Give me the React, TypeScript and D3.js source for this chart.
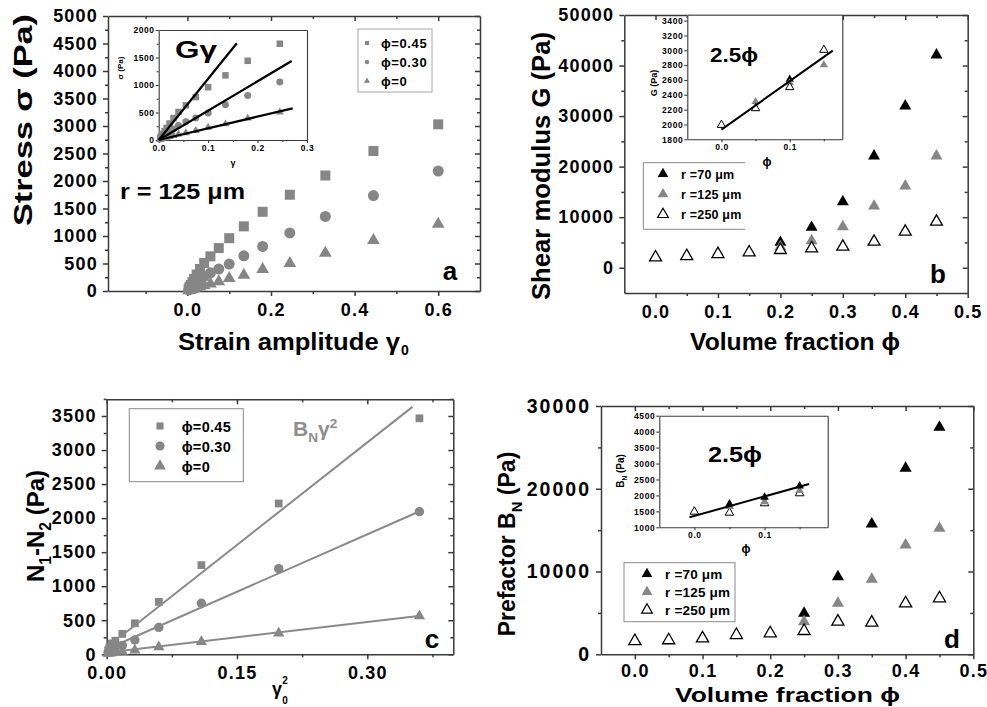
import React, { useEffect, useRef } from "react";
import * as d3 from "d3";

// ---------- panel a : stress vs strain amplitude, r = 125 um
const strainA = [0.003, 0.005, 0.008, 0.012, 0.016, 0.022, 0.03, 0.04, 0.055, 0.075, 0.1, 0.135, 0.18, 0.245, 0.33, 0.445, 0.6];
const stressA045 = [40, 70, 110, 160, 220, 300, 400, 510, 630, 780, 960, 1175, 1440, 1750, 2100, 2545, 3030];
const stressA030 = [20, 35, 55, 80, 110, 150, 200, 265, 330, 400, 490, 640, 810, 1055, 1355, 1735, 2180];
const stressA0 = [8, 14, 22, 32, 45, 60, 80, 105, 130, 170, 230, 290, 395, 505, 690, 920, 1215];
// inset fits sigma = G*gamma
const fitSlopeA = [11130, 5340, 2125];
const fitEndA = [0.158, 0.269, 0.271];
const phiLabels = ["ϕ=0.45", "ϕ=0.30", "ϕ=0"];

// ---------- panel b : shear modulus vs volume fraction
const phiAll = [0, 0.05, 0.1, 0.15, 0.2, 0.25, 0.3, 0.35, 0.4, 0.45];
const phiHigh = [0.2, 0.25, 0.3, 0.35, 0.4, 0.45];
const gB70 = [5020, 7990, 13060, 22100, 32000, 42090];
const gB125 = [4150, 5340, 8110, 12200, 16170, 22100];
const gB250 = [2050, 2300, 2700, 3040, 3500, 3830, 4150, 5140, 7120, 9100];
const phiInset = [0, 0.05, 0.1, 0.15];
const gInset250 = [1993, 2218, 2502, 3005];
const phiInset125 = [0.05, 0.1, 0.15];
const gInset125 = [2307, 2560, 2803];
const phiInset70 = [0.1];
const gInset70 = [2610];
const fitPhiB = [0, 0.163];
const fitGB = [1930, 2996];
const radiusLabels = ["r =70 μm", "r =125 μm", "r =250 μm"];

// ---------- panel c : N1-N2 vs gamma0^2
const strainSqC = [0.0016, 0.003, 0.0056, 0.01, 0.018, 0.0324, 0.06, 0.109, 0.198, 0.36];
const nC045 = [60, 100, 160, 200, 300, 455, 770, 1310, 2215, 3465];
const nC030 = [30, 50, 70, 100, 130, 210, 395, 750, 1257, 2095];
const nC0 = [10, 15, 20, 30, 40, 60, 108, 185, 308, 562];
const fitSlopeC = [10040, 5620, 1500];
const fitInterceptC = [100, 76, 25];
const fitStartC = [0.015, 0.02, 0.008];
const fitEndC = [0.352, 0.359, 0.359];

// ---------- panel d : prefactor B_N vs volume fraction
const bD70 = [4950, 9380, 15740, 22470, 27430];
const bD125 = [3940, 6160, 9060, 13200, 15220];
const phiHighD = [0.25, 0.3, 0.35, 0.4, 0.45];
const bD250 = [1600, 1700, 1930, 2330, 2540, 2815, 3940, 3820, 6160, 6770];
const bInset250 = [1489, 1458, 1753, 2066];
const bInset125 = [1650, 1800, 2150];
const bInset70 = [1731, 1941, 2295];
const fitPhiD = [-0.007, 0.1635];
const fitBD = [1314, 2358];

const FONT = "'Liberation Sans', Arial, 'DejaVu Sans', sans-serif";
const AXIS = "#3a3a3a";
const GRAY = "#868686";

const range = (a: number, b: number, s: number) => d3.range(a, b + s / 2, s).map((v) => +v.toFixed(4));

function frame(g: any, x: any, y: any, o: any) {
  const [xl, xr] = x.range();
  const [yb, yt] = y.range();
  if (o.fill) g.append("rect").attr("x", xl).attr("y", yt).attr("width", xr - xl).attr("height", yb - yt).attr("fill", o.fill);
  const axis = (gen: any, tr: string, vals: number[], size: number, fmt: any, pad: number, font: number, ls: number, domain: boolean) => {
    const a = g.append("g").attr("transform", tr)
      .call(gen.tickValues(vals).tickSize(size).tickSizeOuter(0).tickPadding(pad).tickFormat(fmt));
    a.attr("font-family", null).attr("font-size", null);
    if (domain) a.select(".domain").attr("stroke", AXIS).attr("stroke-width", o.stroke);
    else a.select(".domain").remove();
    a.selectAll(".tick line").attr("stroke", AXIS).attr("stroke-width", o.stroke);
    a.selectAll(".tick text").attr("fill", "#000").attr("font-family", FONT).attr("font-weight", "bold")
      .attr("font-size", font).style("letter-spacing", `${ls}px`);
  };
  const none = () => "";
  axis(d3.axisBottom(x), `translate(0,${yb})`, o.xTicks, o.major, o.xFmt, o.padX, o.font, o.ls, true);
  axis(d3.axisBottom(x), `translate(0,${yb})`, o.xMinor, o.minor, none, 0, 1, 0, false);
  axis(d3.axisLeft(y), `translate(${xl},0)`, o.yTicks, o.major, o.yFmt, o.padY, o.yFont ?? o.font, o.yLs ?? o.ls, true);
  axis(d3.axisLeft(y), `translate(${xl},0)`, o.yMinor, o.minor, none, 0, 1, 0, false);
  axis(d3.axisTop(x), `translate(0,${yt})`, o.xTicks, o.mirror ? -o.major : 0, none, 0, 1, 0, true);
  axis(d3.axisRight(y), `translate(${xr},0)`, o.yTicks, o.mirror ? -o.major : 0, none, 0, 1, 0, true);
  if (o.mirror) {
    axis(d3.axisTop(x), `translate(0,${yt})`, o.xMinor, -o.minor, none, 0, 1, 0, false);
    axis(d3.axisRight(y), `translate(${xr},0)`, o.yMinor, -o.minor, none, 0, 1, 0, false);
  }
}

function txt(g: any, x: number, y: number, parts: any, size: number, o: any = {}) {
  const t = g.append("text")
    .attr("transform", `translate(${x},${y})${o.rot ? ` rotate(${o.rot})` : ""}`)
    .attr("text-anchor", o.anchor ?? "start").attr("font-family", o.family ?? FONT)
    .attr("font-weight", o.weight ?? "bold").attr("font-size", size).attr("fill", o.fill ?? "#000");
  if (o.len) t.attr("textLength", o.len).attr("lengthAdjust", "spacingAndGlyphs");
  if (o.ls) t.style("letter-spacing", `${o.ls}px`);
  if (typeof parts === "string") { t.text(parts); return t; }
  let shift = 0;
  parts.forEach(([s, kind]: [string, string]) => {
    const target = kind === "sub" ? size * 0.3 : kind === "sup" ? -size * 0.4 : 0;
    t.append("tspan").attr("dy", target - shift).attr("font-size", kind ? size * 0.65 : size).text(s);
    shift = target;
  });
  return t;
}

function points(g: any, xs: number[], ys: number[], x: any, y: any, type: any, size: number, fill: string, stroke = "none", sw = 0) {
  g.append("g").selectAll("path").data(xs.map((v, i) => [v, ys[i]])).join("path")
    .attr("d", d3.symbol().type(type).size(size)())
    .attr("transform", (d: number[]) => `translate(${x(d[0])},${y(d[1])})`)
    .attr("fill", fill).attr("stroke", stroke).attr("stroke-width", sw);
}

function line(g: any, xs: number[], ys: number[], x: any, y: any, color: string, w: number) {
  g.append("path").attr("d", d3.line()(xs.map((v, i) => [x(v), y(ys[i])]) as any))
    .attr("stroke", color).attr("stroke-width", w).attr("fill", "none");
}

const fmt1 = (d: number) => d3.format(".1f")(d);
const fmt2 = (d: number) => d3.format(".2f")(d);
const fmt0 = (d: number) => d3.format("d")(d);

function drawA(svg: any) {
  const g = svg.append("g");
  const x = d3.scaleLinear().domain([-0.19, 0.7]).range([108, 480]);
  const y = d3.scaleLinear().domain([0, 5000]).range([291, 16]);
  frame(g, x, y, {
    xTicks: [0, 0.2, 0.4, 0.6], xMinor: [-0.1, 0.1, 0.3, 0.5], xFmt: fmt1,
    yTicks: range(0, 5000, 500), yMinor: range(250, 4750, 500), yFmt: fmt0,
    font: 18, ls: 1.2, major: 5, minor: 3, padX: 7, padY: 5, mirror: true, stroke: 1.5,
  });
  points(g, strainA, stressA0, x, y, d3.symbolTriangle, 70, GRAY);
  points(g, strainA, stressA030, x, y, d3.symbolCircle, 95, GRAY);
  points(g, strainA, stressA045, x, y, d3.symbolSquare, 100, GRAY);

  // inset
  const xi = d3.scaleLinear().domain([0, 0.3]).range([158.7, 307]);
  const yi = d3.scaleLinear().domain([0, 2000]).range([140, 30]);
  frame(g, xi, yi, {
    xTicks: [0, 0.1, 0.2, 0.3], xMinor: [0.05, 0.15, 0.25], xFmt: fmt1,
    yTicks: range(0, 2000, 500), yMinor: range(250, 1750, 500), yFmt: fmt0,
    font: 8.5, ls: 0.6, major: 3, minor: 2, padX: 2, padY: 1, mirror: false, stroke: 1.1, fill: "#fff",
  });
  const keep = strainA.filter((v) => v <= 0.3);
  points(g, keep, stressA0, xi, yi, d3.symbolTriangle, 28, GRAY);
  points(g, keep, stressA030, xi, yi, d3.symbolCircle, 38, GRAY);
  points(g, keep, stressA045, xi, yi, d3.symbolSquare, 42, GRAY);
  fitSlopeA.forEach((s, i) => line(g, [0, fitEndA[i]], [0, s * fitEndA[i]], xi, yi, "#000", 2.2));
  txt(g, 175, 58, "Gγ", 24, { len: 42 });
  txt(g, 123, 68, "σ (Pa)", 8, { rot: -90, anchor: "middle" });
  txt(g, 233, 166, "γ", 9, { anchor: "middle" });

  // legend
  g.append("rect").attr("x", 358).attr("y", 29).attr("width", 74).attr("height", 63)
    .attr("fill", "#fff").attr("stroke", "#a8a8a8").attr("stroke-width", 1);
  const shapes = [d3.symbolSquare, d3.symbolCircle, d3.symbolTriangle];
  phiLabels.forEach((s, i) => {
    const ry = 43 + i * 19;
    g.append("path").attr("d", d3.symbol().type(shapes[i]).size(16)()).attr("transform", `translate(367,${ry})`).attr("fill", GRAY);
    txt(g, 381, ry + 5, s, 13, { ls: 0.6 });
  });

  txt(g, 120, 199, "r = 125 μm", 22, { len: 125 });
  txt(g, 450, 280, "a", 26, { anchor: "middle" });
  txt(g, 32, 120, "Stress σ (Pa)", 26, { rot: -90, anchor: "middle", len: 212 });
  txt(g, 178, 350, "Strain amplitude γ", 24, { len: 222 });
  txt(g, 401, 355, "0", 14);
}

function drawB(svg: any) {
  const g = svg.append("g");
  const x = d3.scaleLinear().domain([-0.05, 0.5]).range([624.3, 967.7]);
  const y = d3.scaleLinear().domain([-5000, 50000]).range([293, 15]);
  frame(g, x, y, {
    xTicks: range(0, 0.5, 0.1), xMinor: range(0.05, 0.45, 0.1), xFmt: fmt1,
    yTicks: range(0, 50000, 10000), yMinor: range(5000, 45000, 10000), yFmt: fmt0,
    font: 18, ls: 1.2, major: 5, minor: 3, padX: 7, padY: 5, mirror: true, stroke: 1.5,
  });
  points(g, phiHigh, gB70, x, y, d3.symbolTriangle, 62, "#000");
  points(g, phiHigh, gB125, x, y, d3.symbolTriangle, 62, GRAY);
  points(g, phiAll, gB250, x, y, d3.symbolTriangle, 62, "#fff", "#000", 1.3);

  const xi = d3.scaleLinear().domain([-0.05, 0.177]).range([687.3, 842.3]);
  const yi = d3.scaleLinear().domain([1800, 3480]).range([139.3, 14.7]);
  frame(g, xi, yi, {
    xTicks: [0, 0.1], xMinor: [0.05, 0.15], xFmt: fmt1,
    yTicks: range(1800, 3400, 200), yMinor: [], yFmt: fmt0,
    font: 8.5, ls: 0.6, major: 3, minor: 2, padX: 2, padY: 1, mirror: false, stroke: 1.1, fill: "#fff",
  });
  points(g, phiInset70, gInset70, xi, yi, d3.symbolTriangle, 30, "#000");
  points(g, phiInset125, gInset125, xi, yi, d3.symbolTriangle, 30, GRAY);
  points(g, phiInset, gInset250, xi, yi, d3.symbolTriangle, 30, "#fff", "#000", 1);
  line(g, fitPhiB, fitGB, xi, yi, "#000", 2);
  txt(g, 710, 62, "2.5ϕ", 21, { len: 48 });
  txt(g, 657, 83, "G (Pa)", 9, { rot: -90, anchor: "middle" });
  txt(g, 767, 166, "ϕ", 12, { anchor: "middle" });

  // legend (right edge missing in the original)
  g.append("path").attr("d", "M745,162.7 H643.3 V229.3 H745").attr("fill", "none").attr("stroke", "#888").attr("stroke-width", 1);
  const fills = ["#000", GRAY, "#fff"];
  radiusLabels.forEach((s, i) => {
    const ry = 174 + i * 20.2;
    g.append("path").attr("d", d3.symbol().type(d3.symbolTriangle).size(50)()).attr("transform", `translate(663,${ry})`)
      .attr("fill", fills[i]).attr("stroke", i === 2 ? "#000" : "none").attr("stroke-width", 1.2);
    txt(g, 681, ry + 4.5, s, 12.5, { ls: 0.2 });
  });

  txt(g, 938, 283, "b", 26, { anchor: "middle" });
  txt(g, 550, 166, "Shear modulus G (Pa)", 26, { rot: -90, anchor: "middle", len: 268 });
  txt(g, 690, 350, "Volume fraction ϕ", 24, { len: 210 });
}

function drawC(svg: any) {
  const g = svg.append("g");
  const x = d3.scaleLinear().domain([0, 0.399]).range([106.7, 453.3]);
  const y = d3.scaleLinear().domain([0, 3745]).range([654.3, 399.3]);
  frame(g, x, y, {
    xTicks: [0, 0.15, 0.3], xMinor: [0.075, 0.225, 0.375], xFmt: fmt2,
    yTicks: range(0, 3500, 500), yMinor: range(250, 3750, 500), yFmt: fmt0,
    font: 18, ls: 1.2, major: 5, minor: 3, padX: 7, padY: 5, mirror: true, stroke: 1.5,
  });
  points(g, strainSqC, nC0, x, y, d3.symbolTriangle, 55, GRAY);
  points(g, strainSqC, nC030, x, y, d3.symbolCircle, 70, GRAY);
  points(g, strainSqC, nC045, x, y, d3.symbolSquare, 60, GRAY);
  fitSlopeC.forEach((s, i) => {
    const xs = [fitStartC[i], fitEndC[i]];
    line(g, xs, xs.map((v) => fitInterceptC[i] + s * v), x, y, "#8a8a8a", 2);
  });

  g.append("rect").attr("x", 129.3).attr("y", 408.7).attr("width", 114).attr("height", 73)
    .attr("fill", "#fff").attr("stroke", "#8a8a8a").attr("stroke-width", 1);
  const shapes = [d3.symbolSquare, d3.symbolCircle, d3.symbolTriangle];
  const sizes = [50, 65, 60];
  phiLabels.forEach((s, i) => {
    const ry = 426 + i * 20;
    g.append("path").attr("d", d3.symbol().type(shapes[i]).size(sizes[i])()).attr("transform", `translate(160,${ry})`).attr("fill", GRAY);
    txt(g, 181.7, ry + 5.5, s, 14.5, { ls: 0.3 });
  });

  txt(g, 293, 436, [["B", ""], ["N", "sub"], ["γ", ""], ["2", "sup"]], 21, { fill: "#8e8e8e" });
  txt(g, 432, 648, "c", 26, { anchor: "middle" });
  txt(g, 44, 526, [["N", ""], ["1", "sub"], ["-N", ""], ["2", "sub"], [" (Pa)", ""]], 24, { rot: -90, anchor: "middle" });
  txt(g, 277, 695, "γ", 18, { anchor: "middle" });
  txt(g, 285, 684, "2", 10, { anchor: "middle" });
  txt(g, 285, 704, "0", 10, { anchor: "middle" });
}

function drawD(svg: any) {
  const g = svg.append("g");
  const x = d3.scaleLinear().domain([-0.05, 0.5]).range([601, 973.3]);
  const y = d3.scaleLinear().domain([0, 30000]).range([654.3, 406]);
  frame(g, x, y, {
    xTicks: range(0, 0.5, 0.1), xMinor: range(0.05, 0.45, 0.1), xFmt: fmt1,
    yTicks: range(0, 30000, 10000), yMinor: range(5000, 25000, 10000), yFmt: fmt0,
    font: 18, ls: 1.2, yFont: 19.5, yLs: 2, major: 5, minor: 3, padX: 5, padY: 5, mirror: true, stroke: 1.5,
  });
  points(g, phiHighD, bD70, x, y, d3.symbolTriangle, 64, "#000");
  points(g, phiHighD, bD125, x, y, d3.symbolTriangle, 64, GRAY);
  points(g, phiAll, bD250, x, y, d3.symbolTriangle, 64, "#fff", "#000", 1.3);

  const xi = d3.scaleLinear().domain([-0.05, 0.19]).range([659.3, 827.7]);
  const yi = d3.scaleLinear().domain([1000, 4500]).range([527.3, 415.7]);
  frame(g, xi, yi, {
    xTicks: [0, 0.1], xMinor: [0.05, 0.15], xFmt: fmt1,
    yTicks: range(1000, 4500, 500), yMinor: [], yFmt: fmt0,
    font: 8.5, ls: 0.6, major: 3, minor: 2, padX: 2, padY: 1, mirror: false, stroke: 1.1, fill: "#fff",
  });
  points(g, phiInset, bInset250, xi, yi, d3.symbolTriangle, 32, "#fff", "#000", 1);
  points(g, phiInset125, bInset125, xi, yi, d3.symbolTriangle, 32, GRAY);
  points(g, phiInset125, bInset70, xi, yi, d3.symbolTriangle, 32, "#000");
  line(g, fitPhiD, fitBD, xi, yi, "#000", 2);
  txt(g, 708, 462, "2.5ϕ", 22, { len: 54 });
  txt(g, 624, 471, [["B", ""], ["N", "sub"], [" (Pa)", ""]], 10, { rot: -90, anchor: "middle" });
  txt(g, 746, 553, "ϕ", 12, { anchor: "middle" });

  g.append("rect").attr("x", 624).attr("y", 562.7).attr("width", 111).attr("height", 59)
    .attr("fill", "#fff").attr("stroke", "#8a8a8a").attr("stroke-width", 1);
  const fills = ["#000", GRAY, "#fff"];
  radiusLabels.forEach((s, i) => {
    const ry = 574 + i * 18;
    g.append("path").attr("d", d3.symbol().type(d3.symbolTriangle).size(50)()).attr("transform", `translate(647,${ry})`)
      .attr("fill", fills[i]).attr("stroke", i === 2 ? "#000" : "none").attr("stroke-width", 1.2);
    txt(g, 665, ry + 5, s, 13.5, { ls: 0.2 });
  });

  txt(g, 952, 648, "d", 26, { anchor: "middle" });
  txt(g, 515, 544, [["Prefactor B", ""], ["N", "sub"], [" (Pa)", ""]], 23, { rot: -90, anchor: "middle" });
  txt(g, 675, 702, "Volume fraction ϕ", 21, { len: 225 });
}

export default function App() {
  const ref = useRef<SVGSVGElement>(null);
  useEffect(() => {
    const svg = d3.select(ref.current);
    svg.selectAll("*").remove();
    drawA(svg);
    drawB(svg);
    drawC(svg);
    drawD(svg);
  }, []);
  return (
    <svg ref={ref} width={987} height={707}
      style={{ position: "absolute", left: 0, top: 0, background: "#fff" }} />
  );
}
